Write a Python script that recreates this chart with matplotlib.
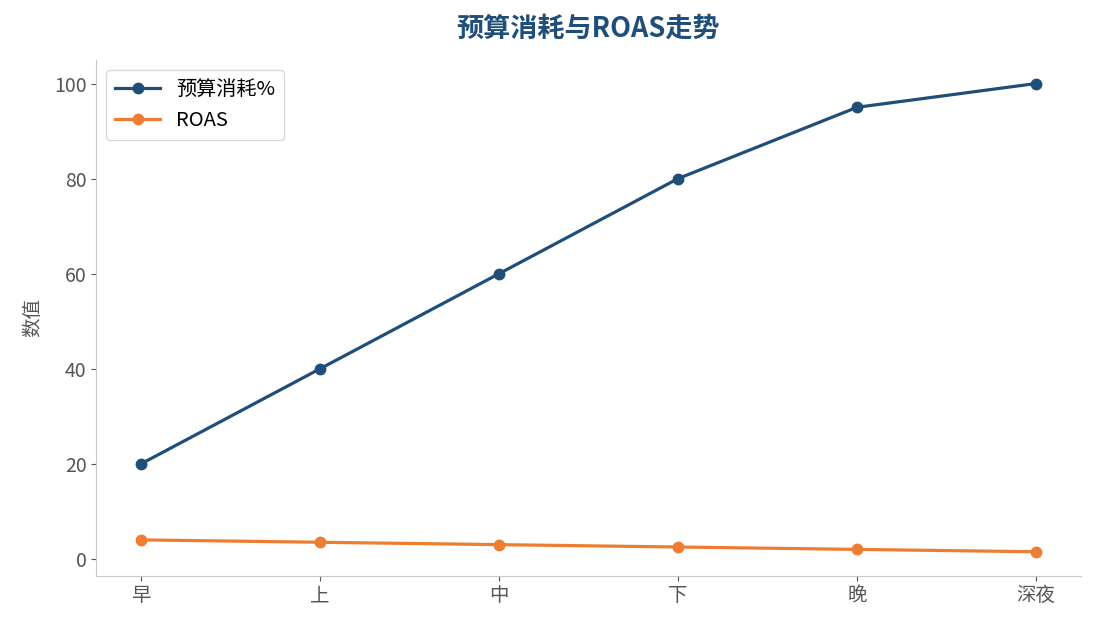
import matplotlib.pyplot as plt

plt.rcParams['font.family'] = ['Noto Sans CJK SC', 'DejaVu Sans']

# 数据
periods = ["早", "上", "中", "下", "晚", "深夜"]
budget_pct = [20, 40, 60, 80, 95, 100]
roas = [4.0, 3.5, 3.0, 2.5, 2.0, 1.5]

fig, ax = plt.subplots(figsize=(10.95, 6.29), dpi=100)
fig.subplots_adjust(left=0.088, right=0.987, top=0.905, bottom=0.085)

ax.plot(periods, budget_pct, marker='o', color='#1f4e79', linewidth=2.3, markersize=7.5, label='预算消耗%')
ax.plot(periods, roas, marker='o', color='#ed7d31', linewidth=2.3, markersize=7.5, label='ROAS')

ax.set_title("预算消耗与ROAS走势", fontsize=19.5, fontweight='bold', color='#1f4e79', pad=17)
ax.set_ylabel("数值", fontsize=14, color='#555555', labelpad=8)
ax.set_ylim(-3.5, 105)
ax.set_yticks([0, 20, 40, 60, 80, 100])

for s in ['top', 'right']:
    ax.spines[s].set_visible(False)
for s in ['left', 'bottom']:
    ax.spines[s].set_color('#c8c8c8')
ax.tick_params(colors='#555555', labelsize=14)

leg = ax.legend(loc='upper left', fontsize=14.5, frameon=True, borderpad=0.45, handlelength=2.2)
leg.get_frame().set_edgecolor('#d0d0d0')

plt.savefig("out.png", dpi=100)
